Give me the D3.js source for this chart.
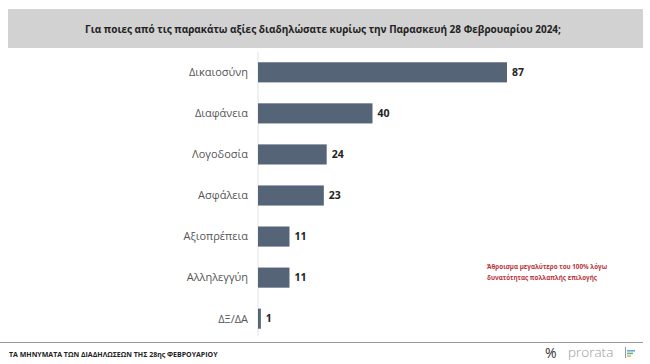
<!DOCTYPE html>
<html>
<head>
<meta charset="utf-8">
<script src="https://cdnjs.cloudflare.com/ajax/libs/d3/7.8.5/d3.min.js"></script>
<style>
  body { margin: 0; background: #fff; }
  svg { display: block; font-family: "Open Sans", "DejaVu Sans", sans-serif; }
</style>
</head>
<body>
<div id="chart"></div>
<script>
// Data
var categories = ["Δικαιοσύνη", "Διαφάνεια", "Λογοδοσία", "Ασφάλεια", "Αξιοπρέπεια", "Αλληλεγγύη", "ΔΞ/ΔΑ"];
var values = [87, 40, 24, 23, 11, 11, 1];
var title = "Για ποιες από τις παρακάτω αξίες διαδηλώσατε κυρίως την Παρασκευή 28 Φεβρουαρίου 2024;";
var noteLines = ["Άθροισμα μεγαλύτερο του 100% λόγω", "δυνατότητας πολλαπλής επιλογής"];
var footer = "ΤΑ ΜΗΝΥΜΑΤΑ ΤΩΝ ΔΙΑΔΗΛΩΣΕΩΝ ΤΗΣ 28ης ΦΕΒΡΟΥΑΡΙΟΥ";

var width = 650, height = 364;
var barColor = "#566478";

var svg = d3.select("#chart").append("svg")
    .attr("width", width)
    .attr("height", height);

//Title band
svg.append("rect")
    .attr("x", 8).attr("y", 9)
    .attr("width", 635).attr("height", 39)
    .attr("fill", "#d2d2d2");
svg.append("text")
    .attr("x", 323).attr("y", 32.5)
    .attr("text-anchor", "middle")
    .attr("font-size", 10)
    .attr("font-weight", "bold")
    .attr("fill", "#222")
    .text(title);

//Scales
var x = d3.scaleLinear().domain([0, 87]).range([258, 507]);
var y = d3.scaleBand().domain(categories).range([52, 339])
    .paddingInner(0.51).paddingOuter(0.25);

//Axis line
svg.append("line")
    .attr("x1", x(0)).attr("x2", x(0))
    .attr("y1", 52).attr("y2", 336)
    .attr("stroke", "#e2e2e2");

var rows = svg.selectAll(".row")
    .data(categories.map(function(c, i) { return { name: c, value: values[i] }; }))
    .enter().append("g")
    .attr("class", "row");

rows.append("rect")
    .attr("x", x(0))
    .attr("y", function(d) { return y(d.name); })
    .attr("width", function(d) { return x(d.value) - x(0); })
    .attr("height", y.bandwidth())
    .attr("fill", barColor);

rows.append("text")
    .attr("x", x(0) - 10)
    .attr("y", function(d) { return y(d.name) + y.bandwidth() / 2; })
    .attr("dy", "0.35em")
    .attr("text-anchor", "end")
    .attr("font-size", 11)
    .attr("fill", "#555")
    .text(function(d) { return d.name; });

rows.append("text")
    .attr("x", function(d) { return x(d.value) + 5; })
    .attr("y", function(d) { return y(d.name) + y.bandwidth() / 2; })
    .attr("dy", "0.35em")
    .attr("font-size", 10.5)
    .attr("font-weight", "bold")
    .attr("fill", "#222")
    .text(function(d) { return d.value; });

//Note in red
svg.append("g").selectAll("text")
    .data(noteLines)
    .enter().append("text")
    .attr("x", 487)
    .attr("y", function(d, i) { return 269 + i * 11; })
    .attr("font-size", 6.3)
    .attr("font-weight", "bold")
    .attr("fill", "#b8333a")
    .text(function(d) { return d; });

//Footer
svg.append("line")
    .attr("x1", 0).attr("x2", 643)
    .attr("y1", 342.5).attr("y2", 342.5)
    .attr("stroke", "#999");
svg.append("text")
    .attr("x", 9).attr("y", 357)
    .attr("font-size", 7)
    .attr("font-weight", "bold")
    .attr("fill", "#222")
    .text(footer);

svg.append("text")
    .attr("x", 545).attr("y", 358)
    .attr("font-size", 14)
    .attr("fill", "#333")
    .text("%");
svg.append("text")
    .attr("x", 568).attr("y", 357)
    .attr("font-size", 13.5)
    .attr("font-weight", 300)
    .attr("fill", "#999")
    .text("prorata");
var logoBars = [["#6aa9d8", 8], ["#5cb39b", 6], ["#e0b44b", 4]];
svg.append("line")
    .attr("x1", 625.5).attr("x2", 625.5)
    .attr("y1", 347).attr("y2", 358)
    .attr("stroke", "#999");
svg.selectAll(".logo")
    .data(logoBars)
    .enter().append("rect")
    .attr("x", 627)
    .attr("y", function(d, i) { return 350 + i * 2.6; })
    .attr("width", function(d) { return d[1]; })
    .attr("height", 1.6)
    .attr("fill", function(d) { return d[0]; });
</script>
</body>
</html>
